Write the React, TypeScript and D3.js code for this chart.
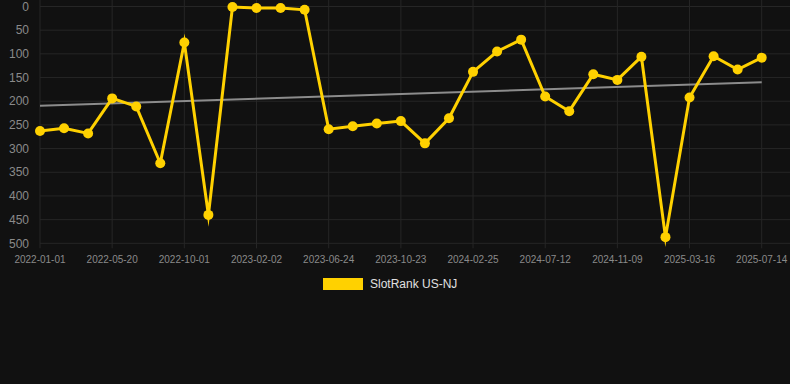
import React from "react";
import * as d3 from "d3";

const tickLabels = [
  "2022-01-01", "2022-05-20", "2022-10-01", "2023-02-02", "2023-06-24",
  "2023-10-23", "2024-02-25", "2024-07-12", "2024-11-09", "2025-03-16", "2025-07-14",
];
const rankValues = [
  263, 257, 268, 194, 211, 331, 76, 440, 1, 3, 3, 7,
  259, 253, 247, 242, 289, 236, 138, 95, 70, 190, 221, 143,
  155, 106, 487, 192, 105, 133, 108,
];
const yTicks = [0, 50, 100, 150, 200, 250, 300, 350, 400, 450, 500];
const seriesName = "SlotRank US-NJ";

const W = 790, H = 384;
const left = 40, right = 761.7, top = 6.5, bottom = 243.3;
const GOLD = "#ffd100";
const FONT = "'Liberation Sans', Arial, sans-serif";

export default function App() {
  const n = rankValues.length;
  const x = d3.scaleLinear().domain([0, n - 1]).range([left, right]);
  const y = d3.scaleLinear().domain([0, 500]).range([top, bottom]);
  const line = d3.line<number>().x((_, i) => x(i)).y((d) => y(d));

  // least squares trend
  const xs = d3.range(n);
  const mx = d3.mean(xs)!;
  const my = d3.mean(rankValues)!;
  const slope = d3.sum(xs, (i) => (i - mx) * (rankValues[i] - my)) / d3.sum(xs, (i) => (i - mx) ** 2);
  const trend = (i: number) => my + slope * (i - mx);

  const xTickIdx = tickLabels.map((_, k) => k * 3);

  return (
    <svg width={W} height={H} style={{ position: "absolute", left: 0, top: 0, background: "#111111" }}>
      <rect width={W} height={H} fill="#111111" />
      {yTicks.map((t) => (
        <line key={"gy" + t} x1={left} x2={W} y1={y(t)} y2={y(t)} stroke="#262626" strokeWidth={1} />
      ))}
      {xTickIdx.map((i) => (
        <line key={"gx" + i} x1={x(i)} x2={x(i)} y1={0} y2={bottom + 5} stroke="#262626" strokeWidth={1} />
      ))}
      {yTicks.map((t) => (
        <text key={"ly" + t} x={29} y={y(t)} dy="0.35em" textAnchor="end" fill="#8a8a8a" fontSize={12} fontFamily={FONT}>
          {t}
        </text>
      ))}
      {xTickIdx.map((i, k) => (
        <text key={"lx" + i} x={x(i)} y={259} dy="0.35em" textAnchor="middle" fill="#8a8a8a" fontSize={10} fontFamily={FONT}>
          {tickLabels[k]}
        </text>
      ))}
      <line x1={x(0)} y1={y(trend(0))} x2={x(n - 1)} y2={y(trend(n - 1))} stroke="#8c8c8c" strokeWidth={2} />
      <path d={line(rankValues) ?? ""} fill="none" stroke={GOLD} strokeWidth={3} strokeLinejoin="miter" strokeMiterlimit={10} />
      {rankValues.map((v, i) => (
        <circle key={"p" + i} cx={x(i)} cy={y(v)} r={5} fill={GOLD} />
      ))}
      <rect x={323} y={278} width={40} height={12} fill={GOLD} />
      <text x={370} y={284} dy="0.35em" fill="#e0e0e0" fontSize={12} fontFamily={FONT}>
        {seriesName}
      </text>
    </svg>
  );
}
